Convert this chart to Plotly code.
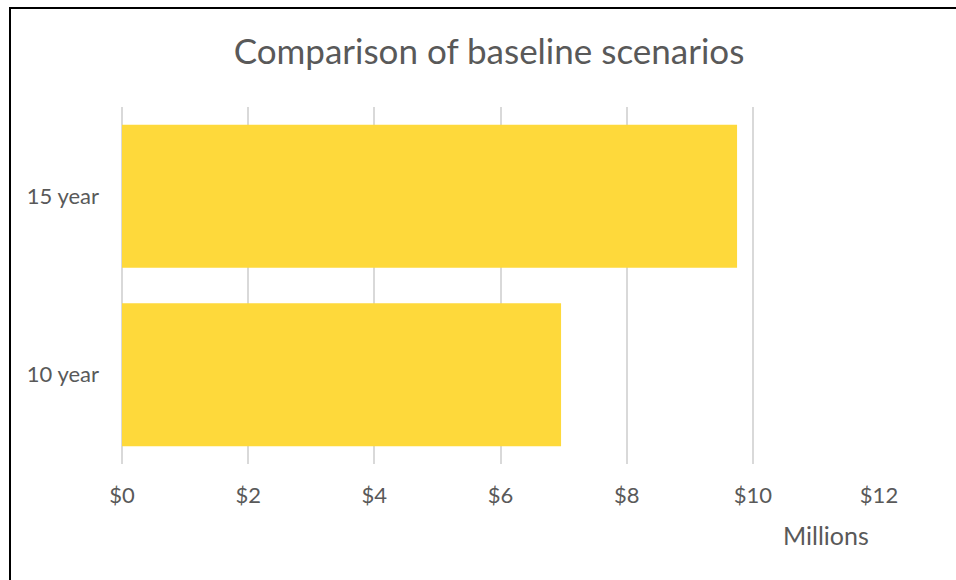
import plotly.graph_objects as go

# Baseline scenario totals, in millions of dollars
scenarios = ["10 year", "15 year"]
totals_millions = [6.96, 9.75]
x_tick_values = [0, 2, 4, 6, 8, 10, 12]
x_tick_labels = ["$0", "$2", "$4", "$6", "$8", "$10", "$12"]

TEXT = "#595959"
GRID = "#D9D9D9"
BAR = "#FED93B"
FONT = "Lato, Open Sans, sans-serif"


def px_x(px):
    """Horizontal pixel position -> paper coordinate."""
    return (px - 122) / 757


def px_y(py):
    """Vertical pixel position -> paper coordinate."""
    return (464 - py) / 357


fig = go.Figure(
    go.Bar(
        x=totals_millions,
        y=scenarios,
        orientation="h",
        marker=dict(color=BAR, line=dict(width=0)),
        hoverinfo="x+y",
    )
)

frame = dict(color="black", width=2)

fig.update_layout(
    width=956,
    height=580,
    margin=dict(l=122, r=77, t=107, b=116),
    paper_bgcolor="white",
    plot_bgcolor="white",
    bargap=0.2,
    showlegend=False,
    font=dict(family=FONT, color=TEXT, size=22),
    title=dict(
        text="Comparison of baseline scenarios",
        x=px_x(489),
        xref="paper",
        xanchor="center",
        y=1 - 52 / 580,
        yanchor="middle",
        font=dict(family=FONT, size=35, color=TEXT),
    ),
    xaxis=dict(
        range=[0, 12],
        tickvals=x_tick_values,
        ticktext=x_tick_labels,
        showgrid=True,
        gridcolor=GRID,
        gridwidth=2,
        zeroline=True,
        zerolinecolor=GRID,
        zerolinewidth=2,
        showline=False,
        ticks="",
        ticklabelstandoff=16,
        tickfont=dict(size=22, color=TEXT),
        fixedrange=True,
    ),
    yaxis=dict(
        categoryorder="array",
        categoryarray=scenarios,
        showgrid=False,
        zeroline=False,
        showline=False,
        ticks="",
        ticklabelstandoff=22,
        tickfont=dict(size=22, color=TEXT),
        fixedrange=True,
    ),
    annotations=[
        dict(
            text="Millions",
            xref="paper",
            yref="paper",
            x=px_x(871),
            y=px_y(535),
            xanchor="right",
            yanchor="middle",
            showarrow=False,
            font=dict(family=FONT, size=25, color=TEXT),
        )
    ],
    shapes=[
        # chart frame: top edge and left edge
        dict(type="line", xref="paper", yref="paper",
             x0=px_x(9), x1=px_x(956), y0=px_y(8), y1=px_y(8),
             line=frame, layer="above"),
        dict(type="line", xref="paper", yref="paper",
             x0=px_x(10), x1=px_x(10), y0=px_y(7), y1=px_y(580),
             line=frame, layer="above"),
    ],
)

fig.write_html("out.html")
